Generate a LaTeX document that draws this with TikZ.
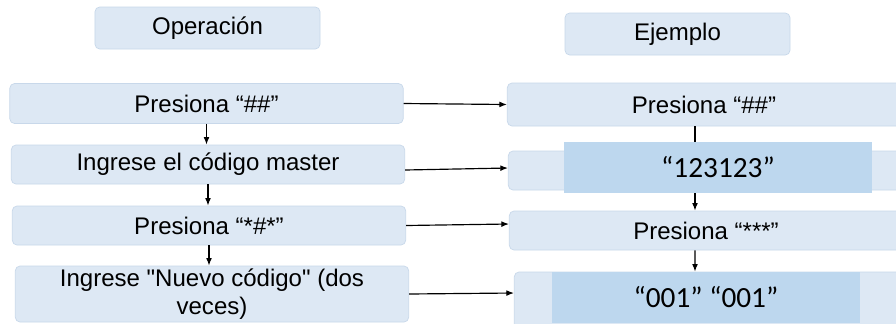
\documentclass[tikz,border=0pt]{standalone}
\usepackage{fontspec}
\setmainfont{Liberation Sans}[Ligatures=TeXOff]
\newfontfamily\califont{Carlito}
\usetikzlibrary{arrows.meta, positioning}
\definecolor{boxfill}{HTML}{DDE8F4}
\definecolor{boxline}{HTML}{C8D8EA}
\definecolor{coverfill}{HTML}{BDD7EE}

\begin{document}
\begin{tikzpicture}[x=0.03cm, y=-0.03cm,
  stepbox/.style={draw=boxline, fill=boxfill, rounded corners=4pt, line width=0.6pt,
    minimum width=11.8cm, minimum height=1.17cm, inner sep=0pt, align=center,
    font=\fontsize{20.5}{24}\selectfont},
  headbox/.style={stepbox, minimum width=6.75cm, minimum height=1.26cm},
  coverbox/.style={fill=coverfill, minimum width=9.24cm, minimum height=1.53cm, inner sep=0pt,
    font=\califont\fontsize{25}{30}\selectfont},
  arr/.style={-{Latex[length=6.5pt,width=5pt]}, line width=1pt}]
\clip (0,0) rectangle (896,323);
\fill[white] (0,0) rectangle (896,323);
\node[headbox] (op) at (207.5,28) {Operación};
\node[headbox] (ej) at (677.5,34) {Ejemplo};
\node[stepbox, minimum height=1.2cm] (l1) at (206.5,103.5) {Presiona “\#\#”};
\node[stepbox] (l2) at (208,164.5) {Ingrese el código master};
\node[stepbox] (l3) at (209,225.5) {Presiona “*\#*”};
\node[stepbox, minimum height=1.68cm] (l4) at (212,294) {Ingrese "Nuevo código" (dos\\veces)};
\node[stepbox, minimum height=1.29cm] (r1) at (704,104.5) {Presiona “\#\#”};
\node[stepbox] (r2) at (705,170.5) {};
\node[stepbox] (r3) at (706,230.5) {Presiona “***”};
\node[stepbox, minimum height=1.8cm] (r4) at (711,302) {};
\draw[arr] (l1.south) -- (l1.south |- l2.north);
\draw[arr] (l2.south) -- (l2.south |- l3.north);
\draw[arr] (l3.south) -- (l3.south |- l4.north);
\draw[arr] (l1.east) -- (r1.west);
\draw[arr] ([yshift=-0.165cm]l2.east) -- ([yshift=0.075cm]r2.west);
\draw[arr] (l3.east) -- ([yshift=0.195cm]r3.west);
\draw[arr] (l4.east) -- ([yshift=0.27cm]r4.west);
\draw[arr] ([xshift=-0.27cm]r1.south) -- ([xshift=-0.3cm]r2.north);
\draw[arr] ([xshift=-0.3cm]r2.south) -- ([xshift=-0.33cm]r3.north);
\draw[arr] ([xshift=-0.33cm]r3.south) -- ([xshift=-0.48cm]r4.north);
\node[coverbox] (c2) at (718,167.5) {“123123”};
\node[coverbox] (c4) at (706,297.5) {“001” “001”};
\end{tikzpicture}
\end{document}
